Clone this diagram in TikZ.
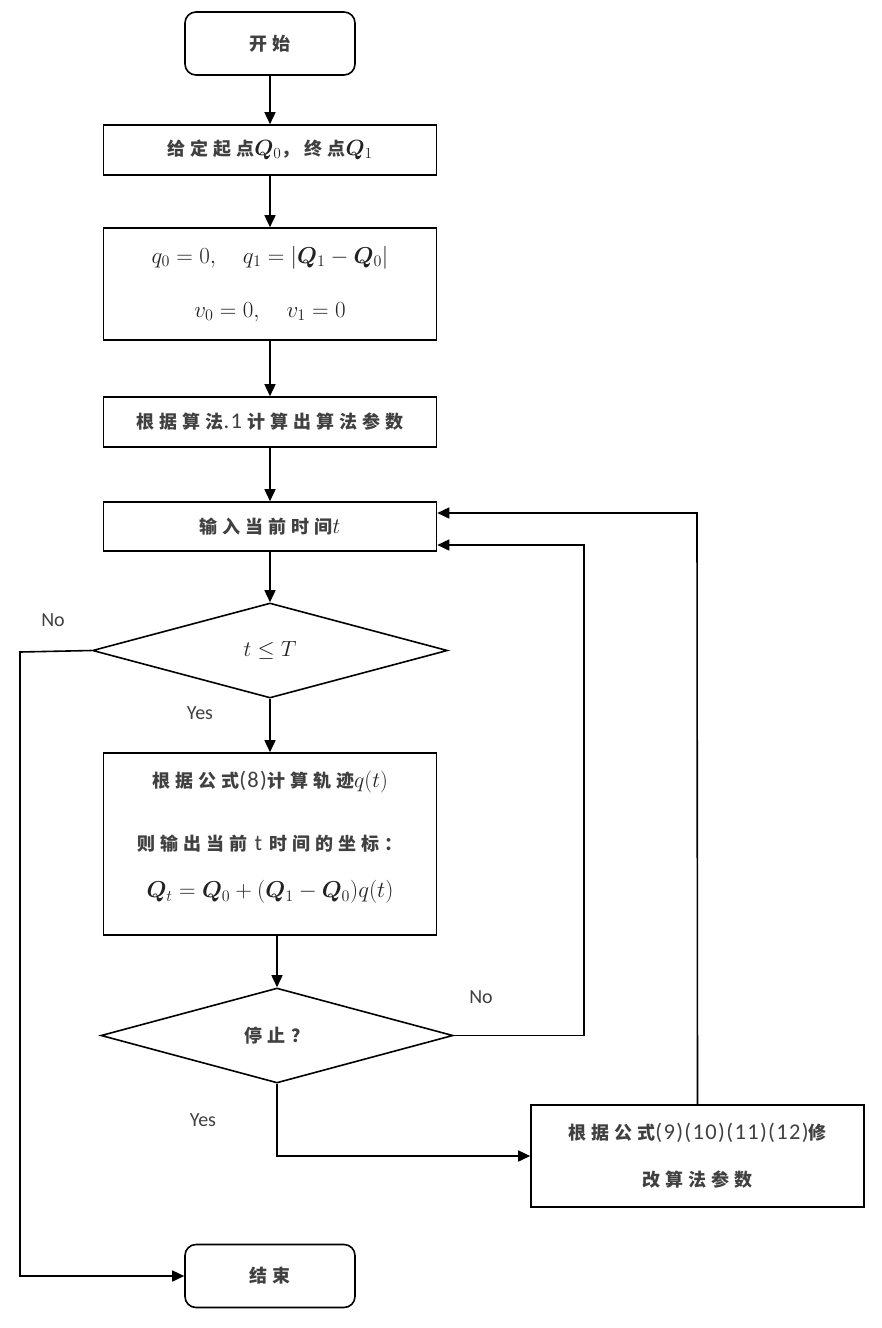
\RequirePackage{fix-cm}
\documentclass[tikz,border=0pt]{standalone}
\usepackage{amsmath,bm}
\usepackage{fontspec}
\newfontfamily\cjkf[LetterSpace=28]{Noto Sans CJK SC}
\newfontfamily\latf[LetterSpace=6]{Carlito}
\newfontfamily\labf{Carlito}
\usetikzlibrary{arrows.meta,shapes.geometric}
\definecolor{txt}{HTML}{404040}
\definecolor{mtxt}{HTML}{222222}
\newcommand{\cj}[1]{{\cjkf\bfseries #1}}
\newcommand{\lt}[1]{{\latf\fontsize{22.5}{24}\selectfont #1}}
\newcommand{\mm}[1]{{\fontsize{22}{25}\selectfont\color{mtxt}$#1$}}
\begin{document}
\begin{tikzpicture}[x=1pt,y=-1pt,
  box/.style={draw, line width=1.6pt, minimum width=333pt, inner sep=0pt, align=center, text=txt,
    font=\fontsize{18}{22}\selectfont},
  term/.style={box, rounded corners=11pt, minimum width=170pt, minimum height=63pt},
  dec/.style={draw, diamond, line width=1.6pt, inner sep=0pt, text=txt, font=\fontsize{18}{22}\selectfont},
  arr/.style={-{Triangle[length=12pt,width=11pt]}, line width=1.6pt},
  lab/.style={font=\labf\fontsize{20}{24}\selectfont, text=txt}]
\useasboundingbox (0,0) rectangle (882,1328);
\node[term] (start) at (270,43.5) {\cj{开始}};
\node[box, minimum height=50pt] (b1) at (270,150) {\cj{给定起点}\mm{\bm{Q}_0}\cj{，终点}\mm{\bm{Q}_1}};
\node[box, minimum height=112pt, font=\fontsize{23}{54}\selectfont, text=mtxt] (b2) at (270,284)
  {$q_0=0,\quad q_1=|\bm{Q}_1-\bm{Q}_0|$\\$v_0=0,\quad v_1=0$};
\node[box, minimum height=50pt] (b3) at (270,422) {\cj{根据算法}\lt{.1}\ \cj{计算出算法参数}};
\node[box, minimum height=49pt] (b4) at (270,526.5) {\cj{输入当前时间}\mm{t}};
\node[dec, minimum width=355pt, minimum height=95pt] (d1) at (270,650.5) {\mm{t\le T}};
\node[box, minimum height=182pt, font=\fontsize{18}{47}\selectfont] (b5) at (270,844)
  {\cj{根据公式}\lt{(8)}\cj{计算轨迹}\mm{q(t)}\\[16pt]
   \cj{则输出当前}\lt{\hspace{7pt}t\hspace{7pt}}\cj{时间的坐标：}\\
   {\fontsize{23}{25}\selectfont\color{mtxt}$\bm{Q}_t=\bm{Q}_0+(\bm{Q}_1-\bm{Q}_0)q(t)$}\\[-28pt]\rule{0pt}{0pt}};
\node[dec, minimum width=352pt, minimum height=95pt] (d2) at (277,1035.5) {\cj{停止？}};
\node[box, minimum height=102pt, font=\fontsize{18}{47}\selectfont] (b6) at (697.5,1156)
  {\cj{根据公式}\lt{(9)(10)(11)(12)}\cj{修}\\\cj{改算法参数}};
\node[term] (end) at (270,1276) {\cj{结束}};
\coordinate (lft) at (20,652);
\coordinate (r1) at (584,545);
\coordinate (r2) at (697,513);
\draw[arr] (start) -- (b1);
\draw[arr] (b1) -- (b2);
\draw[arr] (b2) -- (b3);
\draw[arr] (b3) -- (b4);
\draw[arr] (b4) -- (d1);
\draw[arr] (d1) -- (b5);
\draw[arr] (b5.south -| d2.north) -- (d2.north);
\draw[arr] (d1.west) -- (lft) |- (end.west);
\draw[arr] (d2.east) -| (r1) -- (r1 -| b4.east);
\draw[arr] (b6.north) -- (r2) -- (r2 -| b4.east);
\draw[arr] (d2.south) |- (b6.west);
\node[lab] (no1) at (53,620) {No};
\node[lab] (yes1) at (200,713) {Yes};
\node[lab] (no2) at (481,997) {No};
\node[lab] (yes2) at (203,1120) {Yes};
\end{tikzpicture}
\end{document}
